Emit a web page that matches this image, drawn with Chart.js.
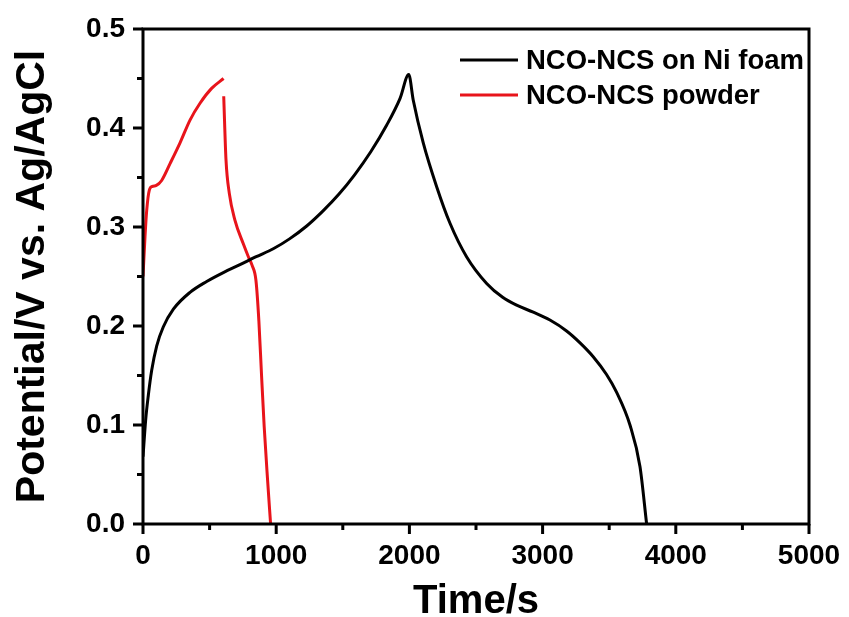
<!DOCTYPE html>
<html>
<head>
<meta charset="utf-8">
<script src="https://cdn.jsdelivr.net/npm/chart.js@4.4.1/dist/chart.umd.min.js"></script>
<style>
  html, body { margin: 0; padding: 0; background: #fff; }
  #wrap { width: 849px; height: 617px; position: relative; }
</style>
</head>
<body>
<div id="wrap"><canvas id="gcd"></canvas></div>
<script>
// time (s) / potential (V)
let timeFoam = [0, 20, 40, 65, 103, 152, 228, 353, 478, 603, 728, 850, 978, 1100, 1229, 1350, 1470, 1590, 1710, 1830, 1930, 1995,
  2029, 2104, 2204, 2304, 2429, 2580, 2700, 2805, 2930, 3055, 3180, 3281, 3380, 3480, 3556, 3656, 3731, 3781];
let potFoam = [0.068, 0.105, 0.130, 0.155, 0.180, 0.199, 0.217, 0.234, 0.245, 0.254, 0.262, 0.270, 0.278, 0.288, 0.301, 0.316, 0.333, 0.353, 0.376, 0.403, 0.430, 0.454,
  0.428, 0.385, 0.341, 0.304, 0.270, 0.243, 0.229, 0.221, 0.214, 0.206, 0.195, 0.183, 0.169, 0.151, 0.133, 0.100, 0.058, 0.0];

// null = break between charge and discharge
let timePowder = [0, 15, 28, 47, 70, 100, 140, 203, 278, 353, 428, 515, 605, 605.5,
  606, 623, 648, 690, 753, 791, 820, 848, 870, 890, 910, 935, 958];
let potPowder = [0.25, 0.29, 0.317, 0.337, 0.341, 0.342, 0.347, 0.364, 0.385, 0.408, 0.425, 0.440, 0.450, null,
  0.432, 0.368, 0.334, 0.307, 0.283, 0.270, 0.261, 0.246, 0.205, 0.150, 0.098, 0.045, 0.0];

let labels = ["NCO-NCS on Ni foam", "NCO-NCS powder"];
let colors = ["#000000", "#e8141b"];

let xTicks = [0, 1000, 2000, 3000, 4000, 5000];
let yTicks = [0.0, 0.1, 0.2, 0.3, 0.4, 0.5];

const FONT = '"Liberation Sans", Arial, sans-serif';

const toPts = (xs, ys) => xs.map((t, i) => ({ x: t, y: ys[i] }));

// box, outer ticks + legend drawn on top
const frame = {
  id: "frame",
  afterDraw(chart) {
    const { ctx, chartArea: a, scales: { x, y } } = chart;
    ctx.save();
    ctx.strokeStyle = "#000";
    ctx.lineWidth = 3;
    ctx.strokeRect(a.left, a.top, a.right - a.left, a.bottom - a.top);

    ctx.beginPath();
    for (let i = 0; i <= 10; i++) {
      const px = x.getPixelForValue(i * 500);
      const len = i % 2 === 0 ? 10 : 6;
      ctx.moveTo(px, a.bottom);
      ctx.lineTo(px, a.bottom + len);
      const py = y.getPixelForValue(i * 0.05);
      ctx.moveTo(a.left, py);
      ctx.lineTo(a.left - len, py);
    }
    ctx.stroke();

    // legend
    ctx.font = "bold 27.5px " + FONT;
    ctx.textBaseline = "middle";
    ctx.textAlign = "left";
    chart.data.datasets.forEach((ds, i) => {
      const ly = 60 + i * 35;
      ctx.beginPath();
      ctx.strokeStyle = ds.borderColor;
      ctx.lineWidth = 3;
      ctx.moveTo(460, ly);
      ctx.lineTo(518, ly);
      ctx.stroke();
      ctx.fillStyle = "#000";
      ctx.fillText(ds.label, 526, ly + 1);
    });
    ctx.restore();
  }
};

new Chart("gcd", {
  type: "line",
  data: {
    datasets: [
      {
        label: labels[0],
        data: toPts(timeFoam, potFoam),
        borderColor: colors[0],
        borderWidth: 3,
        pointRadius: 0,
        cubicInterpolationMode: "monotone",
        fill: false
      },
      {
        label: labels[1],
        data: toPts(timePowder, potPowder),
        borderColor: colors[1],
        borderWidth: 3,
        pointRadius: 0,
        spanGaps: false,
        cubicInterpolationMode: "monotone",
        fill: false
      }
    ]
  },
  options: {
    responsive: true,
    maintainAspectRatio: false,
    animation: false,
    layout: { padding: { top: 29, right: 40, left: 0, bottom: 0 } },
    plugins: { legend: { display: false }, tooltip: { enabled: false } },
    scales: {
      x: {
        type: "linear",
        min: 0,
        max: 5000,
        afterFit: (s) => { s.height = 93; s.paddingLeft = 0; s.paddingRight = 0; },
        afterBuildTicks: (s) => { s.ticks = xTicks.map(v => ({ value: v })); },
        grid: { display: false, drawTicks: false },
        border: { display: false },
        ticks: {
          padding: 15,
          color: "#000",
          font: { family: FONT, size: 28, weight: "bold" },
          callback: (v) => String(v)
        },
        title: {
          display: true,
          text: "Time/s",
          color: "#000",
          padding: 0,
          font: { family: FONT, size: 40, weight: "bold", lineHeight: 0.75 }
        }
      },
      y: {
        type: "linear",
        min: 0,
        max: 0.5,
        afterFit: (s) => { s.width = 143; s.paddingTop = 0; s.paddingBottom = 0; },
        afterBuildTicks: (s) => { s.ticks = yTicks.map(v => ({ value: v })); },
        grid: { display: false, drawTicks: false },
        border: { display: false },
        ticks: {
          padding: 18,
          color: "#000",
          font: { family: FONT, size: 28, weight: "bold" },
          callback: (v) => Number(v).toFixed(1)
        },
        title: {
          display: true,
          text: "Potential/V vs. Ag/AgCl",
          color: "#000",
          padding: { top: 8, bottom: 0 },
          font: { family: FONT, size: 41, weight: "bold", lineHeight: 1.2 }
        }
      }
    }
  },
  plugins: [frame]
});
</script>
</body>
</html>
